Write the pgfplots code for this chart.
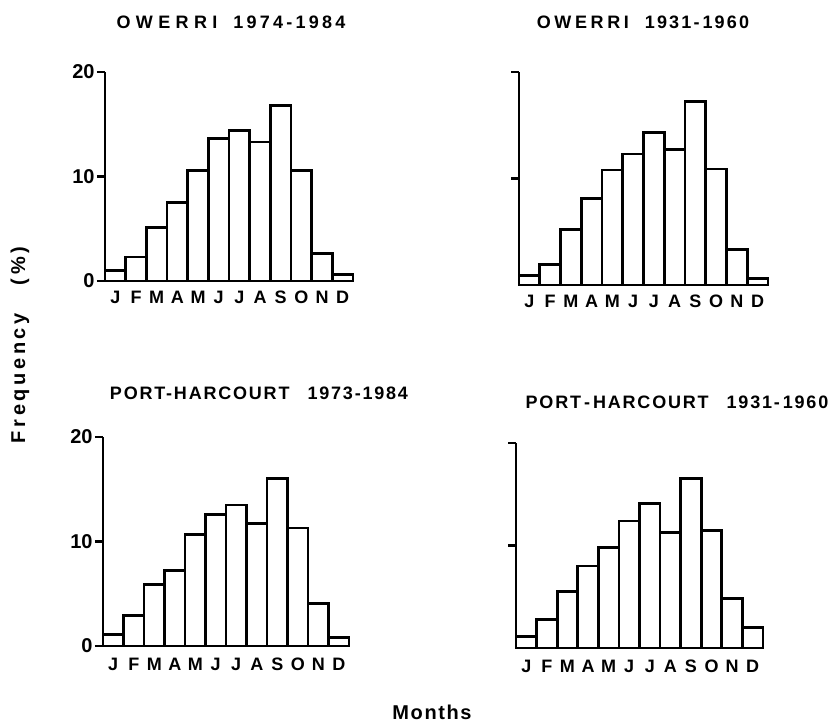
\documentclass[border=0pt]{standalone}
\usepackage{fontspec}
\setmainfont{Liberation Sans}
\usepackage{pgfplots}
\pgfplotsset{compat=1.18}

\pgfplotsset{
  monthbars/.style={
    scale only axis,
    anchor=south west,
    clip=false,
    xmin=0.5, xmax=12.5,
    ymin=0, ymax=20,
    axis x line*=bottom,
    axis y line*=left,
    axis line style={line width=1.4pt, black},
    xtick={1,...,12},
    xticklabels={J,F,M,A,M,J,J,A,S,O,N,D},
    x tick style={draw=none},
    ytick={0,10,20},
    y tick style={line width=1.4pt, black},
    tick align=outside,
    major tick length=4pt,
    /pgf/number format/assume math mode=true,
    y tick label style={font=\bfseries\fontsize{10}{10}\selectfont, inner sep=1pt},
    x tick label style={font=\bfseries\fontsize{9}{9}\selectfont, yshift=2.5pt},
  },
  bars/.style={ybar, bar width=1, fill=white, draw=black, line width=1.4pt},
}

\begin{document}
\begin{tikzpicture}[x=0.5pt, y=0.5pt]
\useasboundingbox (0,0) rectangle (839,724);

% Owerri 1974-1984
\begin{axis}[monthbars, at={(52.5pt,221.5pt)}, width=124pt, height=104.5pt]
\addplot[bars] coordinates {(1,1.0) (2,2.3) (3,5.1) (4,7.5) (5,10.6) (6,13.6)
  (7,14.4) (8,13.3) (9,16.8) (10,10.6) (11,2.6) (12,0.6)};
\end{axis}

% Owerri 1931-1960
\begin{axis}[monthbars, at={(259.5pt,219.5pt)}, width=124.5pt, height=106.5pt,
  ytick={10,20}, yticklabels={}]
\addplot[bars] coordinates {(1,0.9) (2,1.9) (3,5.2) (4,8.1) (5,10.8) (6,12.3)
  (7,14.3) (8,12.7) (9,17.2) (10,10.9) (11,3.3) (12,0.6)};
\end{axis}

% Port-Harcourt 1973-1984
\begin{axis}[monthbars, at={(51.5pt,39pt)}, width=123pt, height=104.5pt,
  x tick label style={yshift=-1pt}]
\addplot[bars] coordinates {(1,1.1) (2,2.9) (3,5.9) (4,7.2) (5,10.7) (6,12.6)
  (7,13.5) (8,11.7) (9,16.0) (10,11.3) (11,4.1) (12,0.8)};
\end{axis}

% Port-Harcourt 1931-1960
\begin{axis}[monthbars, at={(258pt,38pt)}, width=123.5pt, height=102.5pt,
  ytick={10,20}, yticklabels={}, x tick label style={yshift=-1pt}]
\addplot[bars] coordinates {(1,1.1) (2,2.8) (3,5.5) (4,8.0) (5,9.8) (6,12.4)
  (7,14.1) (8,11.3) (9,16.5) (10,11.5) (11,4.8) (12,2.0)};
\end{axis}

% titles
\node[font=\bfseries\fontsize{9}{10}\selectfont] at (231,702)
  {\addfontfeature{LetterSpace=30}OWERRI\hspace{8pt}\addfontfeature{LetterSpace=18}1974-1984};
\node[font=\bfseries\fontsize{9}{10}\selectfont] at (643,702)
  {\addfontfeature{LetterSpace=20}OWERRI\hspace{8pt}\addfontfeature{LetterSpace=12}1931-\,1960};
\node[font=\bfseries\fontsize{9}{10}\selectfont] at (259,331)
  {\addfontfeature{LetterSpace=10}PORT-HARCOURT\hspace{9pt}1973-1984};
\node[font=\bfseries\fontsize{9}{10}\selectfont] at (677,322)
  {\addfontfeature{LetterSpace=10}PORT\,-\,HARCOURT\hspace{9pt}1931-\,1960};

% axis titles
\node[font=\bfseries\fontsize{10}{10}\selectfont, rotate=90] at (20,379)
  {\addfontfeature{LetterSpace=18}Frequency\hspace{14pt}(\%)};
\node[font=\bfseries\fontsize{10}{10}\selectfont] at (432,12)
  {\addfontfeature{LetterSpace=8}Months};
\end{tikzpicture}
\end{document}
